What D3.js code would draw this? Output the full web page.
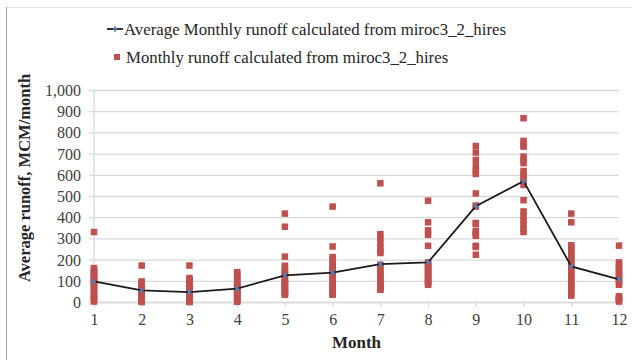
<!DOCTYPE html>
<html>
<head>
<meta charset="utf-8">
<script src="https://cdn.jsdelivr.net/npm/d3@7"></script>
<style>
  html, body { margin: 0; padding: 0; background: #fff; }
  svg { display: block; }
  svg text { font-family: 'Liberation Serif', serif; }
</style>
</head>
<body>
<svg id="chart" width="632" height="360"></svg>
<script>
// Months on the x axis
const months = [1, 2, 3, 4, 5, 6, 7, 8, 9, 10, 11, 12];

// Average monthly runoff (MCM/month)
const averageRunoff = [97, 55, 47, 63, 126, 139, 179, 187, 452, 570, 168, 107];

// Individual monthly runoff values (MCM/month), one list per month
const runoffJan = [330, 160, 152, 143, 135, 128, 120, 112, 105, 98, 90, 80, 70, 60, 50, 40, 30, 20, 10, 2];
const runoffFeb = [172, 97, 90, 84, 78, 72, 66, 60, 54, 48, 42, 36, 30, 24, 18, 12, 8, 4, 2, 0];
const runoffMar = [172, 113, 105, 95, 85, 75, 66, 58, 50, 43, 37, 31, 25, 20, 15, 10, 6, 3, 1, 0];
const runoffApr = [141, 132, 120, 110, 100, 90, 82, 74, 66, 58, 52, 46, 40, 34, 28, 22, 16, 10, 5, 1];
const runoffMay = [417, 355, 214, 171, 160, 148, 137, 125, 115, 105, 96, 88, 80, 72, 64, 56, 48, 41, 36, 34];
const runoffJun = [450, 262, 212, 200, 188, 176, 164, 152, 140, 128, 116, 104, 94, 84, 74, 64, 54, 46, 40, 34];
const runoffJul = [560, 320, 300, 280, 260, 240, 231, 176, 165, 150, 135, 120, 110, 100, 90, 80, 70, 65, 62, 58];
const runoffAug = [478, 376, 338, 317, 265, 187, 180, 172, 164, 156, 148, 140, 132, 124, 116, 108, 100, 92, 86, 81];
const runoffSep = [736, 705, 670, 640, 620, 604, 512, 455, 450, 373, 368, 335, 328, 318, 312, 265, 260, 223];
const runoffOct = [867, 760, 745, 733, 686, 670, 655, 618, 600, 585, 570, 552, 480, 427, 405, 385, 365, 345, 330];
const runoffNov = [417, 376, 268, 255, 240, 225, 210, 195, 180, 165, 150, 135, 120, 105, 90, 75, 60, 45, 30];
const runoffDec = [266, 187, 175, 163, 150, 138, 126, 114, 102, 92, 81, 27, 20, 15, 10, 2];

const monthlyRunoff = [runoffJan, runoffFeb, runoffMar, runoffApr, runoffMay, runoffJun,
                       runoffJul, runoffAug, runoffSep, runoffOct, runoffNov, runoffDec];

// Axis ticks
const yTicks = [0, 100, 200, 300, 400, 500, 600, 700, 800, 900, 1000];

// Legend and axis text
const lineLabel = "Average Monthly runoff calculated from miroc3_2_hires";
const pointLabel = "Monthly runoff calculated from miroc3_2_hires";
const xTitle = "Month";
const yTitle = "Average runoff, MCM/month";

const FONT = "'Liberation Serif', serif";
const svg = d3.select("#chart");
const red = "#c0504d", blue = "#4f81bd", grid = "#d9d9d9", tickText = "#404040";

const plot = { left: 94, right: 619, top: 90, bottom: 302 };
const x = d3.scaleLinear().domain([1, 12]).range([plot.left, plot.right]);
const y = d3.scaleLinear().domain([0, 1000]).range([plot.bottom, plot.top]);

// Outer chart frame
svg.append("line").attr("x1", 6).attr("x2", 632).attr("y1", 7.5).attr("y2", 7.5)
  .attr("stroke", "#e2e2e2").attr("stroke-width", 1);
svg.append("line").attr("x1", 6.5).attr("x2", 6.5).attr("y1", 7).attr("y2", 360)
  .attr("stroke", "#a6a6a6").attr("stroke-width", 1);

// Horizontal gridlines with short outside ticks
const yAxis = d3.axisLeft(y).tickValues(yTicks)
  .tickSize(-(plot.right - plot.left + 5)).tickSizeOuter(0)
  .tickFormat(d3.format(","));
const gy = svg.append("g").attr("transform", `translate(${plot.left - 5},0)`).call(yAxis);
gy.select(".domain").remove();
gy.selectAll(".tick line").attr("stroke", grid).attr("stroke-width", 1.3);
gy.selectAll(".tick text").attr("x", -8).attr("dy", "0.34em").attr("fill", tickText)
  .style("font-family", FONT).style("font-size", "16px");

// Vertical axis line
svg.append("line").attr("x1", plot.left).attr("x2", plot.left)
  .attr("y1", plot.top).attr("y2", plot.bottom).attr("stroke", grid).attr("stroke-width", 1.3);

// X axis
const xAxis = d3.axisBottom(x).tickValues(months).tickSize(5).tickSizeOuter(0);
const gx = svg.append("g").attr("transform", `translate(0,${plot.bottom})`).call(xAxis);
gx.select(".domain").attr("stroke", grid).attr("stroke-width", 1.3);
gx.selectAll(".tick line").attr("stroke", grid).attr("stroke-width", 1.3);
gx.selectAll(".tick text").attr("y", 12).attr("dy", "0.71em").attr("fill", tickText)
  .style("font-family", FONT).style("font-size", "16px");

// Scatter of individual monthly values
const pts = [];
monthlyRunoff.forEach((vals, i) => vals.forEach(v => pts.push({ m: months[i], v })));
const sq = 6.5;
svg.append("g").selectAll("rect").data(pts).join("rect")
  .attr("x", d => x(d.m) - sq / 2).attr("y", d => y(d.v) - sq / 2)
  .attr("width", sq).attr("height", sq).attr("fill", red);

// Average line with markers
const avg = months.map((m, i) => ({ m, v: averageRunoff[i] }));
svg.append("path").datum(avg)
  .attr("d", d3.line().x(d => x(d.m)).y(d => y(d.v)))
  .attr("fill", "none").attr("stroke", "#1a1a1a").attr("stroke-width", 1.8);
svg.append("g").selectAll("path").data(avg).join("path")
  .attr("transform", d => `translate(${x(d.m)},${y(d.v)})`)
  .attr("d", d3.symbol(d3.symbolDiamond, 14)).attr("fill", blue);

// Legend
const lg = svg.append("g");
lg.append("line").attr("x1", 107).attr("x2", 123).attr("y1", 29).attr("y2", 29)
  .attr("stroke", "#1a1a1a").attr("stroke-width", 1.8);
lg.append("path").attr("transform", "translate(115,29)")
  .attr("d", d3.symbol(d3.symbolDiamond, 14)).attr("fill", blue);
lg.append("text").attr("x", 124).attr("y", 29).attr("dy", "0.35em").attr("fill", "#262626")
  .style("font-family", FONT).style("font-size", "16.8px").text(lineLabel);
lg.append("rect").attr("x", 114).attr("y", 54).attr("width", 6).attr("height", 6).attr("fill", red);
lg.append("text").attr("x", 126).attr("y", 57).attr("dy", "0.35em").attr("fill", "#262626")
  .style("font-family", FONT).style("font-size", "16.8px").text(pointLabel);

// Axis titles
svg.append("text").attr("x", x(6.5)).attr("y", 348).attr("text-anchor", "middle")
  .attr("fill", "#262626").style("font-family", FONT).style("font-size", "17px")
  .style("font-weight", "bold").text(xTitle);
svg.append("text").attr("transform", "translate(30,178) rotate(-90)").attr("text-anchor", "middle")
  .attr("fill", "#262626").style("font-family", FONT).style("font-size", "16.5px")
  .style("font-weight", "bold").text(yTitle);
</script>
</body>
</html>
